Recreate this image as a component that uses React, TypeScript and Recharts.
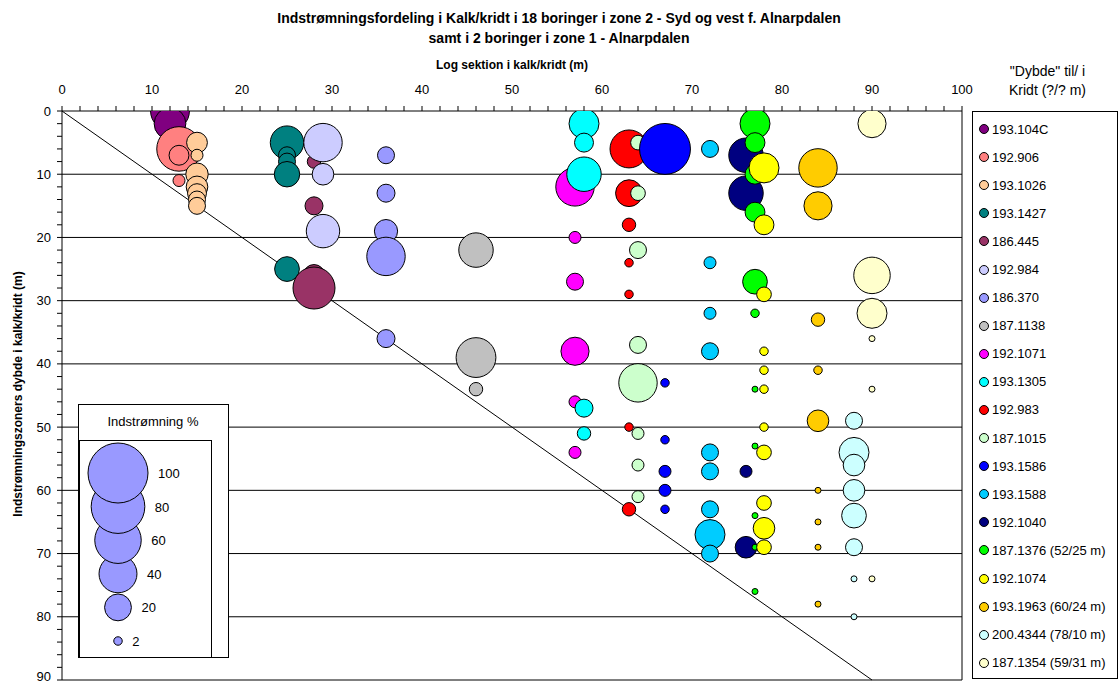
import {
    ScatterChart,
    Scatter,
    XAxis,
    YAxis,
    ZAxis,
    CartesianGrid,
    ReferenceLine
} from "recharts";

const font = '"Liberation Sans", Arial, sans-serif';

// boringer i legenden
const borings = [
    "193.104C", "192.906", "193.1026", "193.1427", "186.445",
    "192.984", "186.370", "187.1138", "192.1071", "193.1305",
    "192.983", "187.1015", "193.1586", "193.1588", "192.1040",
    "187.1376 (52/25 m)", "192.1074", "193.1963 (60/24 m)",
    "200.4344 (78/10 m)", "187.1354 (59/31 m)"
];

const colors = [
    "#800080", "#FF8080", "#FFCC99", "#008080", "#993366",
    "#CCCCFF", "#9999FF", "#C0C0C0", "#FF00FF", "#00FFFF",
    "#FF0000", "#CCFFCC", "#0000FF", "#00CCFF", "#000080",
    "#00FF00", "#FFFF00", "#FFCC00", "#CCFFFF", "#FFFFCC"
];

// log sektion i kalk/kridt (m)
const logSection = [12, 13, 15, 25, 28, 29, 36, 46, 57, 58, 63, 64, 67, 72, 76, 77, 78, 84, 88, 90];

// dybde af indstrømningszoner (m)
const depths = [
    [0, 2],
    [6, 7, 11],
    [5, 7, 10, 12, 13, 14, 15],
    [5, 7, 8, 10, 25],
    [8, 15, 26, 28],
    [5, 10, 19],
    [7, 13, 19, 23, 36],
    [22, 39, 44],
    [12, 20, 27, 38, 46, 54],
    [2, 5, 10, 47, 51],
    [6, 13, 18, 24, 29, 50, 63],
    [5, 13, 22, 37, 43, 51, 56, 61],
    [6, 43, 52, 57, 60, 63],
    [6, 24, 32, 38, 54, 57, 63, 67, 70],
    [7, 13, 57, 69],
    [2, 5, 10, 16, 27, 32, 44, 53, 64, 69, 76],
    [9, 18, 29, 38, 41, 44, 50, 54, 62, 66, 69],
    [9, 15, 33, 41, 49, 60, 65, 69, 78],
    [49, 54, 56, 60, 64, 69, 74, 80],
    [2, 26, 32, 36, 44, 74]
];

// indstrømning (%)
const inflow = [
    [42, 28],
    [55, 11, 4],
    [12, 4, 14, 13, 10, 8, 8],
    [31, 8, 8, 18, 17],
    [5, 9, 13, 49],
    [41, 13, 31],
    [8, 9, 15, 41, 9],
    [33, 44, 5],
    [41, 4, 8, 22, 4, 4],
    [25, 10, 33, 9, 5],
    [40, 20, 5, 2, 2, 2, 5],
    [6, 6, 8, 8, 41, 4, 4, 4],
    [72, 2, 2, 4, 4, 2],
    [8, 4, 4, 8, 8, 8, 8, 25, 8],
    [33, 33, 4, 13],
    [25, 11, 11, 11, 17, 2, 1, 1, 1, 1, 1],
    [25, 11, 6, 2, 2, 2, 2, 6, 6, 13, 6],
    [41, 22, 5, 2, 13, 1, 1, 1, 1],
    [8, 25, 13, 13, 17, 8, 1, 1],
    [22, 37, 25, 1, 1, 1]
];

const sizeLegend = [100, 80, 60, 40, 20, 2];

const xTicks = Array.from({ length: 51 }, (_, i) => i * 2);
const yTicks = Array.from({ length: 46 }, (_, i) => i * 2);
const gridY = [10, 20, 30, 40, 50, 60, 70, 80, 90];

const MAX_R = 30; // radius of a 100 % bubble

const major = (v: number) => (v % 10 === 0 ? String(v) : "");

const bubble = (color: string) => (p: any) => {
    const r = p.width ? p.width / 2 : Math.sqrt((p.size || 0) / Math.PI);
    return <circle cx={p.cx} cy={p.cy} r={r} fill={color} stroke="#000" strokeWidth={1} />;
};

// y tick labels; the last one is nudged up so it stays inside the page
const YTick = (p: any) => {
    const v = p.payload.value;
    if (v % 10 !== 0) return null;
    return (
        <text x={p.x} y={p.y} dy={v === 90 ? 1 : 4.5} textAnchor="end" fontSize={13} fontFamily={font} fill="#000">
            {v}
        </text>
    );
};

function SizeLegend() {
    const cx = 40;
    return (
        <svg
            width={151}
            height={254}
            style={{ position: "absolute", left: 78, top: 404, fontFamily: font }}
        >
            <rect x={0.5} y={0.5} width={150} height={253} fill="#fff" stroke="#000" />
            <rect x={1.5} y={36.5} width={132} height={217} fill="#fff" stroke="#000" />
            <text x={75} y={22} textAnchor="middle" fontSize={13}>Indstrømning %</text>
            {[...sizeLegend].reverse().map((v) => {
                const i = sizeLegend.indexOf(v);
                const r = MAX_R * Math.sqrt(v / 100);
                const cy = 69 + i * 33.6;
                return (
                    <g key={v}>
                        <circle cx={cx} cy={cy} r={r} fill="#9999FF" stroke="#000" />
                        <text x={cx + r + 10} y={cy + 5} fontSize={13}>{v}</text>
                    </g>
                );
            })}
        </svg>
    );
}

function SeriesLegend() {
    return (
        <>
            <div
                style={{
                    position: "absolute", left: 985, top: 62, width: 125,
                    textAlign: "center", fontSize: 14, lineHeight: "19px", fontFamily: font
                }}
            >
                "Dybde" til/ i<br />Kridt (?/? m)
            </div>
            <div
                style={{
                    position: "absolute", left: 972, top: 111, width: 144, height: 566,
                    border: "1px solid #000", background: "#fff", fontFamily: font, fontSize: 13
                }}
            >
                {borings.map((b, i) => (
                    <div key={b} style={{ height: 28.1, display: "flex", alignItems: "center", paddingLeft: 5, paddingTop: i === 0 ? 3 : 0 }}>
                        <svg width={12} height={12} style={{ marginRight: 2 }}>
                            <circle cx={6} cy={6} r={4.5} fill={colors[i]} stroke="#000" />
                        </svg>
                        <span style={{ whiteSpace: "nowrap" }}>{b}</span>
                    </div>
                ))}
            </div>
        </>
    );
}

export default function App() {
    return (
        <div style={{ position: "absolute", left: 0, top: 0, width: 1118, height: 684, background: "#fff", fontFamily: font }}>
            <div
                style={{
                    position: "absolute", left: 0, top: 8, width: 1118, textAlign: "center",
                    fontWeight: "bold", fontSize: 14, lineHeight: "20px"
                }}
            >
                Indstrømningsfordeling i Kalk/kridt i 18 boringer i zone 2 - Syd og vest f. Alnarpdalen
                <br />
                samt i 2 boringer i zone 1 - Alnarpdalen
            </div>
            <div
                style={{
                    position: "absolute", left: 312, top: 58, width: 400, textAlign: "center",
                    fontWeight: "bold", fontSize: 12
                }}
            >
                Log sektion i kalk/kridt (m)
            </div>
            <div
                style={{
                    position: "absolute", left: 18, top: 395, width: 0, height: 0
                }}
            >
                <div
                    style={{
                        position: "absolute", left: -200, top: -8, width: 400, textAlign: "center",
                        fontWeight: "bold", fontSize: 12, transform: "rotate(-90deg)", whiteSpace: "nowrap"
                    }}
                >
                    Indstrømningszoners dybde i kalk/kridt (m)
                </div>
            </div>

            <ScatterChart
                width={1118}
                height={684}
                margin={{ top: 81, right: 156, bottom: 4, left: 22 }}
                style={{ position: "absolute", left: 0, top: 0 }}
            >
                <CartesianGrid vertical={false} horizontalValues={gridY} stroke="#000" strokeOpacity={1} />
                <XAxis
                    type="number"
                    dataKey="x"
                    orientation="top"
                    height={30}
                    domain={[0, 100]}
                    ticks={xTicks}
                    interval={0}
                    tickFormatter={major}
                    tickSize={5}
                    tickMargin={12}
                    stroke="#000"
                    tick={{ fill: "#000", fontSize: 13, fontFamily: font }}
                />
                <YAxis
                    type="number"
                    dataKey="y"
                    width={40}
                    domain={[0, 90]}
                    reversed
                    allowDataOverflow
                    ticks={yTicks}
                    interval={0}
                    tickSize={5}
                    tickMargin={6}
                    stroke="#000"
                    tick={<YTick />}
                />
                <ZAxis type="number" dataKey="v" domain={[0, 100]} range={[0, Math.PI * MAX_R * MAX_R]} />
                <ReferenceLine x={100} stroke="#000" />
                {borings.map((b, k) => (
                    <Scatter
                        key={b}
                        name={b}
                        data={depths[k].map((d, i) => ({ x: logSection[k], y: d, v: inflow[k][i] }))}
                        fill={colors[k]}
                        shape={bubble(colors[k])}
                        isAnimationActive={false}
                    />
                ))}
                <ReferenceLine
                    segment={[{ x: 0, y: 0 }, { x: 90, y: 90 }]}
                    stroke="#000"
                    strokeWidth={1}
                />
            </ScatterChart>

            <SizeLegend />
            <SeriesLegend />
        </div>
    );
}
